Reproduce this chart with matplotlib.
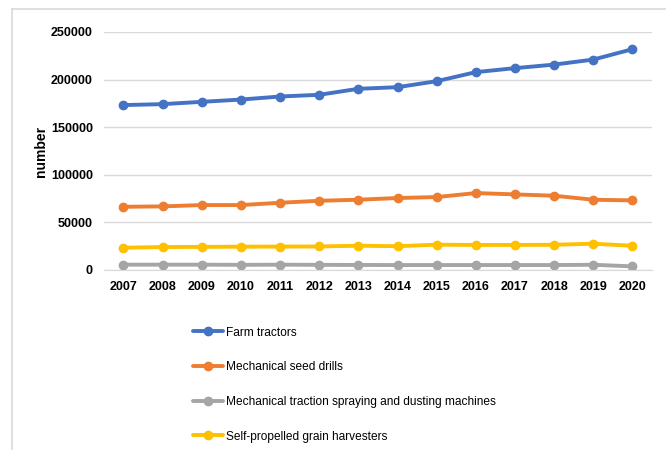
import matplotlib.pyplot as plt
from matplotlib.lines import Line2D

years = [2007, 2008, 2009, 2010, 2011, 2012, 2013, 2014, 2015, 2016, 2017, 2018, 2019, 2020]

farm_tractors = [173200, 174200, 176600, 179000, 182200, 184000, 190300,
                 192000, 198300, 207800, 212000, 215700, 221000, 231900]
seed_drills = [66400, 66800, 68200, 68200, 70600, 72700, 73800,
               75600, 76600, 80800, 79400, 78000, 73800, 73100]
spraying_machines = [5600, 5600, 5600, 5400, 5600, 5400, 5300,
                     5200, 5200, 5200, 5200, 5200, 5500, 3800]
grain_harvesters = [23400, 24100, 24300, 24500, 24600, 24700, 25500,
                    25000, 26600, 26300, 26300, 26500, 27600, 25500]

series = [
    ('Farm tractors', farm_tractors, '#4472C4'),
    ('Mechanical seed drills', seed_drills, '#ED7D31'),
    ('Mechanical traction spraying and dusting machines', spraying_machines, '#A5A5A5'),
    ('Self-propelled grain harvesters', grain_harvesters, '#FFC000'),
]

plt.rcParams['font.family'] = ['Liberation Sans', 'DejaVu Sans']

fig = plt.figure(figsize=(6.66, 4.5), dpi=100)
ax = fig.add_axes([0.156, 0.4, 0.823, 0.529])

x = list(range(len(years)))
for label, values, color in series:
    ax.plot(x, values, color=color, linewidth=2.8, marker='o', markersize=6,
            label=label, solid_capstyle='round')

ax.set_xlim(-0.5, len(years) - 0.5)
ax.set_ylim(0, 250000)
ax.set_yticks(range(0, 250001, 50000))
ax.set_xticks(x)
ax.set_xticklabels([str(y) for y in years], fontweight='bold', fontsize=9)
for t in ax.get_yticklabels():
    t.set_fontweight('bold')
    t.set_fontsize(9)

ax.grid(axis='y', color='#D9D9D9', linewidth=1)
ax.set_axisbelow(True)
for side in ['top', 'right', 'left']:
    ax.spines[side].set_visible(False)
ax.spines['bottom'].set_color('#D9D9D9')
ax.tick_params(axis='both', length=0, pad=8)
ax.set_ylabel('number', fontweight='bold', fontsize=10, labelpad=2)

leg = fig.legend(loc='upper left', bbox_to_anchor=(0.283, 0.285), frameon=False,
                 fontsize=8.6, handlelength=2.5, handletextpad=0.2,
                 labelspacing=1.9, borderaxespad=0)

# chart frame: only the top and left edges fall inside the image
fig.add_artist(Line2D([0.0175, 0.0175], [0.0, 0.979], transform=fig.transFigure,
                      color='#D9D9D9', linewidth=1.2))
fig.add_artist(Line2D([0.0175, 1.0], [0.979, 0.979], transform=fig.transFigure,
                      color='#D9D9D9', linewidth=1.2))

fig.savefig('out.png', dpi=100)
